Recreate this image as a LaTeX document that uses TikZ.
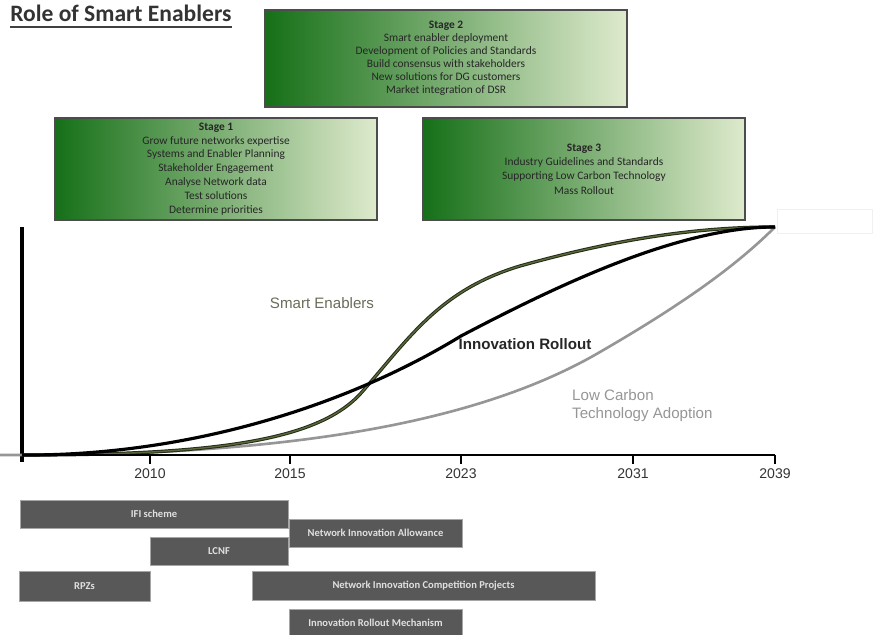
\documentclass[tikz,border=0pt]{standalone}
\usepackage{fontspec}
\setmainfont{Carlito}
\newfontfamily\arialfont{Liberation Sans}
\usepackage{tikz}
\usetikzlibrary{positioning}
\definecolor{stagedark}{RGB}{22,112,24}
\definecolor{stagemid}{RGB}{135,178,92}
\definecolor{stagelight}{RGB}{222,234,204}
\definecolor{schemegray}{RGB}{88,88,88}
\definecolor{enablercol}{RGB}{88,104,58}
\definecolor{enablertext}{RGB}{105,108,88}
\definecolor{carboncol}{RGB}{150,150,150}
\newcommand{\yeartick}[2]{\draw[axisline] (#1,455) -- (#1,464);
					\node[yearlabel] (y#2) at (#1,474) {#2};}
\tikzset{
	stagebox/.style={draw=gray!60!black, line width=1.1pt, left color=stagedark, middle color=stagemid, right color=stagelight, inner sep=0pt, align=center, text=black!85},
	schemebox/.style={fill=schemegray, draw=gray!70, line width=0.3pt, minimum height=0.56cm, inner sep=0pt, font=\fontsize{6}{7}\selectfont\bfseries, text=white!88!black},
	axisline/.style={line width=1.4pt, black},
	yearlabel/.style={font=\arialfont\fontsize{8}{9}\selectfont, text=black!80},
	curvelabel/.style={font=\arialfont\fontsize{8.6}{10.4}\selectfont}
}

\begin{document}
\begin{tikzpicture}[x=0.02cm, y=-0.02cm]
					
					\useasboundingbox (0,0) rectangle (873,635);
					
					\node[anchor=base west, inner sep=0pt, font=\fontsize{13.4}{15}\selectfont\bfseries, text=black!80] (title) at (10,22) {Role of Smart Enablers};
					\draw[black!75, line width=1.3pt] (10,27) -- (232,27);
					
					\node[stagebox, minimum width=7.24cm, minimum height=1.94cm, font=\fontsize{6.5}{7.4}\selectfont] (stage2) at (446,58.5) {\textbf{Stage 2}\\Smart enabler deployment\\Development of Policies and Standards\\Build consensus with stakeholders\\New solutions for DG customers\\Market integration of DSR};
					
					\node[stagebox, minimum width=6.44cm, minimum height=2.04cm, font=\fontsize{6.5}{7.9}\selectfont] (stage1) at (216,169) {\textbf{Stage 1}\\Grow future networks expertise\\Systems and Enabler Planning\\Stakeholder Engagement\\Analyse Network data\\Test solutions\\Determine priorities};
					
					\node[stagebox, minimum width=6.44cm, minimum height=2.04cm, font=\fontsize{6.5}{8.2}\selectfont] (stage3) at (584,169) {\textbf{Stage 3}\\Industry Guidelines and Standards\\Supporting Low Carbon Technology\\Mass Rollout};
					
					\node[draw=gray!12, minimum width=1.9cm, minimum height=0.48cm, inner sep=0pt] (endbox) at (825,221.5) {};
					
					\coordinate (origin) at (22,455);
					\coordinate (ytop) at (22,227);
					\coordinate (xend) at (775,455);
					\coordinate (peak) at (775,227);
					
					\draw[line width=2.3pt, black] ([yshift=-4]origin) -- (ytop);
					
					\draw[carboncol, line width=1.5pt] (0,455) -- (origin) .. controls (270,455) and (470,428) .. (600,352) .. controls (690,300) and (740,262) .. (peak);
					
					\draw[black!60!enablercol, line width=1.9pt] (origin) .. controls (220,455) and (320,440) .. (362,392) .. controls (410,337) and (440,290) .. (520,266) .. controls (620,238) and (700,227) .. (peak);
					\draw[enablercol, line width=0.8pt] (origin) .. controls (220,455) and (320,440) .. (362,392) .. controls (410,337) and (440,290) .. (520,266) .. controls (620,238) and (700,227) .. (peak);
					
					\draw[black, line width=1.8pt] (origin) .. controls (180,456) and (340,410) .. (461,336) .. controls (560,284) and (680,227) .. (peak);
					
					\draw[axisline] (origin) -- (xend);
					\yeartick{150}{2010}
					\yeartick{290}{2015}
					\yeartick{461}{2023}
					\yeartick{633}{2031}
					\yeartick{775}{2039}
					
					\node[curvelabel, text=enablertext] (smartlabel) at (322,303) {Smart Enablers};
					\node[curvelabel, font=\arialfont\fontsize{8.6}{10.4}\selectfont\bfseries, text=black!85] (rolloutlabel) at (525,344) {Innovation Rollout};
					\node[curvelabel, text=carboncol, align=left, anchor=north west] (carbonlabel) at (566,383) {Low Carbon\\Technology Adoption};
					
					\node[schemebox, minimum width=5.36cm] (ifi) at (154,514) {IFI scheme};
					\node[schemebox, minimum width=3.46cm] (nia) at (375.5,533) {Network Innovation Allowance};
					\node[schemebox, minimum width=2.76cm] (lcnf) at (219,551) {LCNF};
					\node[schemebox, minimum width=2.62cm, minimum height=0.6cm] (rpz) at (84.5,586) {RPZs};
					\node[schemebox, minimum width=6.86cm, minimum height=0.58cm] (nic) at (423.5,585.5) {Network Innovation Competition Projects};
					\node[schemebox, minimum width=3.46cm, minimum height=0.54cm] (irm) at (375.5,623) {Innovation Rollout Mechanism};
										
				\end{tikzpicture}
\end{document}
